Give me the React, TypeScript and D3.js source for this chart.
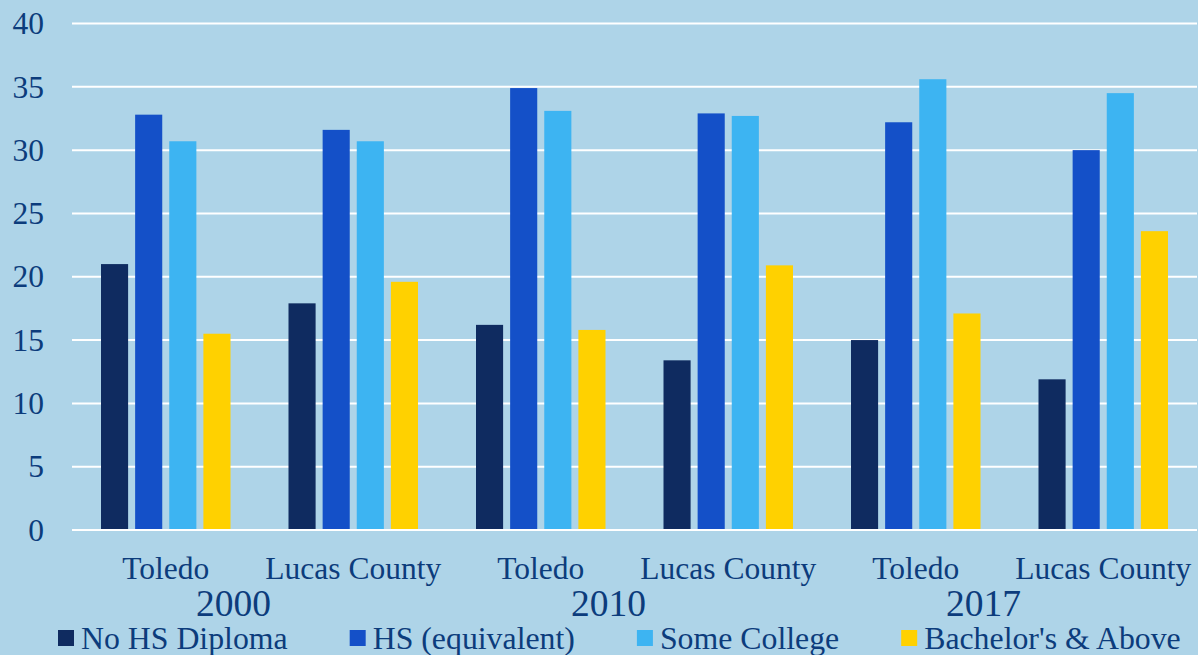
import React, { useEffect, useRef } from "react";
import * as d3 from "d3";

const categories = ["Toledo", "Lucas County", "Toledo", "Lucas County", "Toledo", "Lucas County"];
const years = ["2000", "2010", "2017"];
const seriesNames = ["No HS Diploma", "HS (equivalent)", "Some College", "Bachelor's & Above"];
const noHsDiploma = [21.0, 17.9, 16.2, 13.4, 15.0, 11.9];
const hsEquivalent = [32.8, 31.6, 34.9, 32.9, 32.2, 30.0];
const someCollege = [30.7, 30.7, 33.1, 32.7, 35.6, 34.5];
const bachelorsAbove = [15.5, 19.6, 15.8, 20.9, 17.1, 23.6];
const yTicks = [0, 5, 10, 15, 20, 25, 30, 35, 40];

const colors = ["#0f2b60", "#1450c8", "#3db4f2", "#ffd100"];
const textColor = "#0c3c7c";
const bg = "#aed4e8";
const font = "'Liberation Serif', 'Times New Roman', serif";

const W = 1198;
const H = 655;

const App = () => {
  const ref = useRef(null);

  useEffect(() => {
    const svg = d3.select(ref.current);
    svg.selectAll("*").remove();

    const plot = { left: 72, right: 1197, top: 23.5, bottom: 530 };
    const idx = d3.range(categories.length).map(String);
    const values = [noHsDiploma, hsEquivalent, someCollege, bachelorsAbove];

    const x0 = d3.scaleBand().domain(idx).range([plot.left, plot.right]);
    const x1 = d3
      .scaleBand()
      .domain(seriesNames)
      .range([29, x0.bandwidth() - 29])
      .paddingInner(7 / 34);
    const y = d3.scaleLinear().domain([0, 40]).range([plot.bottom, plot.top]);

    svg.append("rect").attr("width", W).attr("height", H).attr("fill", bg);

    // gridlines
    svg
      .append("g")
      .selectAll("line")
      .data(yTicks)
      .enter()
      .append("line")
      .attr("x1", plot.left)
      .attr("x2", plot.right)
      .attr("y1", (d) => y(d))
      .attr("y2", (d) => y(d))
      .attr("stroke", "#ffffff")
      .attr("stroke-width", 2);

    // y tick labels
    svg
      .append("g")
      .selectAll("text")
      .data(yTicks)
      .enter()
      .append("text")
      .attr("x", 44)
      .attr("y", (d) => y(d))
      .attr("dy", "0.34em")
      .attr("text-anchor", "end")
      .attr("font-family", font)
      .attr("font-size", 31.5)
      .attr("fill", textColor)
      .text((d) => d);

    // bars
    const groups = svg
      .append("g")
      .selectAll("g")
      .data(idx)
      .enter()
      .append("g")
      .attr("transform", (d) => `translate(${x0(d)},0)`);

    groups
      .selectAll("rect")
      .data((d) => seriesNames.map((s, i) => ({ s, i, v: values[i][+d] })))
      .enter()
      .append("rect")
      .attr("x", (d) => x1(d.s))
      .attr("width", x1.bandwidth())
      .attr("y", (d) => y(d.v))
      .attr("height", (d) => y(0) - y(d.v))
      .attr("fill", (d) => colors[d.i]);

    // redraw baseline on top
    svg
      .append("line")
      .attr("x1", plot.left)
      .attr("x2", plot.right)
      .attr("y1", y(0))
      .attr("y2", y(0))
      .attr("stroke", "#ffffff")
      .attr("stroke-width", 2);

    // category labels
    svg
      .append("g")
      .selectAll("text")
      .data(idx)
      .enter()
      .append("text")
      .attr("x", (d) => x0(d) + x0.bandwidth() / 2)
      .attr("y", 579)
      .attr("text-anchor", "middle")
      .attr("font-family", font)
      .attr("font-size", 31.5)
      .attr("fill", textColor)
      .text((d) => categories[+d]);

    // year labels
    svg
      .append("g")
      .selectAll("text")
      .data(years)
      .enter()
      .append("text")
      .attr("x", (d, i) => x0(String(i * 2 + 1)) - 26)
      .attr("y", 616)
      .attr("text-anchor", "middle")
      .attr("font-family", font)
      .attr("font-size", 37.5)
      .attr("fill", textColor)
      .text((d) => d);

    // legend
    const legend = svg.append("g");
    let lx = 58;
    seriesNames.forEach((s, i) => {
      legend
        .append("rect")
        .attr("x", lx)
        .attr("y", 630)
        .attr("width", 16)
        .attr("height", 16)
        .attr("fill", colors[i]);
      const t = legend
        .append("text")
        .attr("x", lx + 23)
        .attr("y", 649)
        .attr("font-family", font)
        .attr("font-size", 31.8)
        .attr("fill", textColor)
        .text(s);
      lx += 23 + t.node().getComputedTextLength() + 62;
    });
  }, []);

  return (
    <svg
      ref={ref}
      width={W}
      height={H}
      style={{ position: "absolute", left: 0, top: 0, display: "block" }}
    />
  );
};

export default App;
